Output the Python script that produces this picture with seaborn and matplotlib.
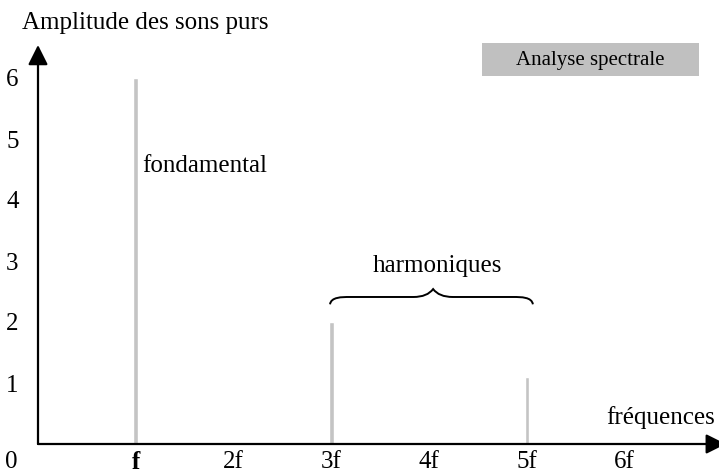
import matplotlib
matplotlib.use('Agg')
import matplotlib.pyplot as plt
import seaborn as sns
import pandas as pd
from matplotlib.path import Path
from matplotlib.patches import PathPatch, Rectangle

rangs = [1, 2, 3, 4, 5, 6]
amplitudes = [6.0, 0.0, 2.0, 0.0, 1.1, 0.0]
x_labels = ['f', '2f', '3f', '4f', '5f', '6f']
y_ticks = [1, 2, 3, 4, 5, 6]

df = pd.DataFrame({'rang': rangs, 'amplitude': amplitudes})

sns.set_theme(style='white')
plt.rcParams['font.family'] = ['Liberation Serif', 'DejaVu Serif']
plt.rcParams['text.color'] = 'black'
plt.rcParams['xtick.labelcolor'] = 'black'
plt.rcParams['ytick.labelcolor'] = 'black'

W, H = 719, 473
fig = plt.figure(figsize=(W / 100, H / 100), dpi=100)
ax = fig.add_axes([38 / W, 29 / H, (W - 38) / W, (444 - 45) / H])

sns.barplot(data=df, x='rang', y='amplitude', native_scale=True, width=0.05,
            color='#c4c4c4', saturation=1, ax=ax)

ax.set_xlim(0, (W - 38) / 97.8)
ax.set_ylim(0, (444 - 45) / 61.0)

for s in ax.spines.values():
    s.set_visible(False)

# axes fléchés
arrow = dict(arrowstyle='-|>', color='black', lw=1.6, mutation_scale=30,
             shrinkA=0, shrinkB=0)
ax.annotate('', xy=(0, 1), xytext=(0, 0), xycoords='axes fraction', arrowprops=arrow)
ax.annotate('', xy=(1.01, 0), xytext=(0, 0), xycoords='axes fraction', arrowprops=arrow,
            annotation_clip=False)

ax.set_xticks(rangs)
ax.set_xticklabels(x_labels, fontsize=18)
ax.get_xticklabels()[0].set_fontweight('bold')
ax.set_yticks(y_ticks)
ax.set_yticklabels([str(v) for v in y_ticks], fontsize=18)
ax.tick_params(axis='x', direction='in', length=5, width=1.5, color='#c8c8c8', pad=5)
ax.tick_params(axis='y', direction='in', length=5, width=1.5, color='#c8c8c8', pad=14)
ax.set_xlabel('')
ax.set_ylabel('')
ax.text(-0.27, -0.29, '0', fontsize=18, ha='center', va='center', clip_on=False)

fig.text(22 / W, 1 - 23 / H, 'Amplitude des sons purs', fontsize=18, va='center')
fig.text(715 / W, 1 - 418 / H, 'fréquences', fontsize=18, ha='right', va='center')

ax.text(1.07, 4.55, 'fondamental', fontsize=18, va='center')
ax.text(4.08, 2.92, 'harmoniques', fontsize=18, ha='center', va='center')

# accolade au-dessus des harmoniques
x0, xm, x1 = 2.986, 4.04, 5.06
yb, yl, yt = 2.29, 2.41, 2.54
verts = [(x0, yb), (x0 + 0.01, yl), (x0 + 0.12, yl), (x0 + 0.2, yl),
         (xm - 0.2, yl), (xm - 0.06, yl), (xm, yt),
         (xm + 0.06, yl), (xm + 0.2, yl),
         (x1 - 0.2, yl), (x1 - 0.12, yl), (x1 - 0.01, yl), (x1, yb)]
codes = [Path.MOVETO, Path.CURVE4, Path.CURVE4, Path.CURVE4,
         Path.LINETO, Path.CURVE3, Path.CURVE3,
         Path.CURVE3, Path.CURVE3,
         Path.LINETO, Path.CURVE4, Path.CURVE4, Path.CURVE4]
ax.add_patch(PathPatch(Path(verts, codes), fill=False, lw=1.4, color='black', clip_on=False))

# cartouche
fig.patches.append(Rectangle((482 / W, 1 - 76 / H), (699 - 482) / W, 33 / H,
                             transform=fig.transFigure, facecolor='#c0c0c0',
                             edgecolor='none'))
fig.text(590 / W, 1 - 60 / H, 'Analyse spectrale', fontsize=15, ha='center', va='center')

fig.savefig('out.png', dpi=100)
